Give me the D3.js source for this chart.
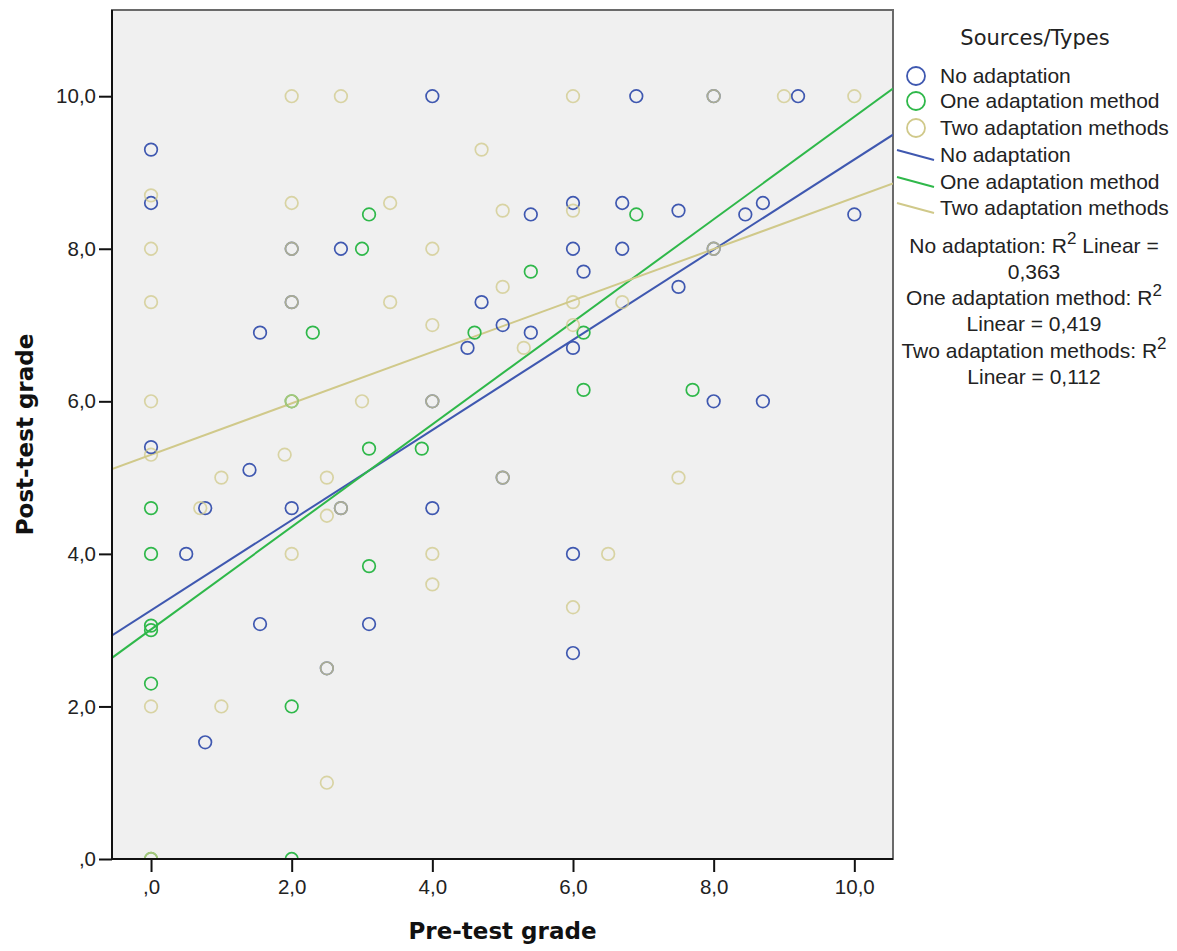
<!DOCTYPE html>
<html>
<head>
<meta charset="utf-8">
<script src="https://cdn.jsdelivr.net/npm/d3@7"></script>
<style>
  body { margin: 0; background: #fff; }
  svg text { font-family: "Liberation Sans", Arial, sans-serif; fill: #222; }
</style>
</head>
<body>
<div id="chart"></div>
<script>
// series names and colours
var groups = ["No adaptation", "One adaptation method", "Two adaptation methods"];
var groupColors = ["#3f58b0", "#2fb84a", "#d0c98a"];

// pre-test / post-test points, one array per group
var noAdaptation = [
  [4,10],[6.9,10],[8,10],[9.2,10],
  [0,9.3],[0,8.6],[2,8],[2.7,8],[2,7.3],[4.7,7.3],[1.55,6.9],[4.5,6.7],[5,7],
  [5.4,8.45],[6,8.6],[6.7,8.6],[7.5,8.5],[8.45,8.45],[8.7,8.6],[10,8.45],
  [6,8],[6.7,8],[8,8],[6.15,7.7],[7.5,7.5],[5.4,6.9],[6,6.7],
  [4,6],[0,5.4],[1.4,5.1],[5,5],[0.77,4.6],[2,4.6],[2.7,4.6],[4,4.6],
  [0.5,4],[1.55,3.08],[3.1,3.08],[2.5,2.5],[0.77,1.53],
  [8,6],[8.7,6],[6,4],[6,2.7]
];
var oneMethod = [
  [3.1,8.45],[3,8],[2.3,6.9],[4.6,6.9],[6.9,8.45],[5.4,7.7],[6.15,6.9],
  [2,6],[3.1,5.38],[3.85,5.38],[0,4.6],[0,4],[3.1,3.84],[0,3.06],[0,3],
  [0,2.3],[2,2],[2,0],[6.15,6.15],[7.7,6.15],[0,0]
];
var twoMethods = [
  [2,10],[2.7,10],[6,10],[8,10],[9,10],[10,10],
  [4.7,9.3],[0,8.7],[2,8.6],[3.4,8.6],[5,8.5],[6,8.5],
  [0,8],[2,8],[4,8],[0,7.3],[2,7.3],[3.4,7.3],[5,7.5],[6,7.3],[6.7,7.3],[4,7],[6,7],
  [5.3,6.7],[0,6],[2,6],[3,6],[4,6],[0,5.3],[1,5],[1.9,5.3],[2.5,5],[5,5],[7.5,5],
  [0.7,4.6],[2.7,4.6],[2.5,4.5],[2,4],[4,4],[4,3.6],[6.5,4],[6,3.3],
  [2.5,2.5],[0,2],[1,2],[2.5,1],[0,0],[8,8]
];

// linear fits: [intercept, slope]
var fitNo = [3.26, 0.591];
var fitOne = [3.01, 0.672];
var fitTwo = [5.30, 0.337];
var r2Labels = ["0,363", "0,419", "0,112"];

var tickValues = [0, 2, 4, 6, 8, 10];

///////////
var W = 1177, H = 951;
var pl = 112, pr = 893, pt = 10, pb = 859;

var svg = d3.select("#chart").append("svg")
  .attr("width", W).attr("height", H);

var x = d3.scaleLinear().domain([-0.555, 10.55]).range([pl, pr]);
var y = d3.scaleLinear().domain([0, 11.13]).range([pb, pt]);

var fmt = function(d) {
  return d === 0 ? ",0" : d3.format(".1f")(d).replace(".", ",");
};

/////////// PLOT AREA
svg.append("rect")
  .attr("x", pl).attr("y", pt)
  .attr("width", pr - pl).attr("height", pb - pt)
  .attr("fill", "#f0f0f0")
  .attr("stroke", "#6a6a6a").attr("stroke-width", 2);

svg.append("clipPath").attr("id", "clip")
  .append("rect")
  .attr("x", pl).attr("y", pt)
  .attr("width", pr - pl).attr("height", pb - pt);

var plot = svg.append("g").attr("clip-path", "url(#clip)");

/////////// FIT LINES
var fits = [fitNo, fitOne, fitTwo];
var xd = x.domain();
plot.selectAll("line.fit")
  .data(fits)
  .enter().append("line")
    .attr("class", "fit")
    .attr("x1", x(xd[0]))
    .attr("x2", x(xd[1]))
    .attr("y1", function(d) { return y(d[0] + d[1] * xd[0]); })
    .attr("y2", function(d) { return y(d[0] + d[1] * xd[1]); })
    .attr("stroke", function(d, i) { return groupColors[i]; })
    .attr("stroke-width", 2);

/////////// POINTS
var series = [noAdaptation, oneMethod, twoMethods];
var markOpacity = [1, 1, 0.75];
series.forEach(function(pts, i) {
  plot.selectAll("circle.s" + i)
    .data(pts)
    .enter().append("circle")
      .attr("class", "s" + i)
      .attr("cx", function(d) { return x(d[0]); })
      .attr("cy", function(d) { return y(d[1]); })
      .attr("r", 6.3)
      .attr("fill", "none")
      .attr("stroke", groupColors[i])
      .attr("stroke-opacity", markOpacity[i])
      .attr("stroke-width", 1.7);
});

/////////// AXES
var xAxis = svg.append("g")
  .attr("transform", "translate(0," + pb + ")")
  .call(d3.axisBottom(x).tickValues(tickValues).tickSize(13).tickPadding(7).tickFormat(fmt));
var yAxis = svg.append("g")
  .attr("transform", "translate(" + pl + ",0)")
  .call(d3.axisLeft(y).tickValues(tickValues).tickSize(13).tickPadding(3).tickFormat(fmt));
[xAxis, yAxis].forEach(function(a) {
  a.select(".domain").remove();
  a.selectAll(".tick line").attr("stroke", "#111").attr("stroke-width", 2);
  a.selectAll(".tick text")
    .attr("font-size", 20.5)
    .attr("font-family", "'Liberation Sans', Arial, sans-serif")
    .attr("fill", "#222");
});

svg.append("line")
  .attr("x1", pl).attr("x2", pl).attr("y1", pt).attr("y2", pb)
  .attr("stroke", "#111").attr("stroke-width", 2);
svg.append("line")
  .attr("x1", pl).attr("x2", pr).attr("y1", pb).attr("y2", pb)
  .attr("stroke", "#111").attr("stroke-width", 2);

/////////// AXIS TITLES
svg.append("text")
  .attr("x", (pl + pr) / 2).attr("y", 939)
  .attr("text-anchor", "middle")
  .style("font-family", "'DejaVu Sans', sans-serif")
  .style("font-weight", "bold")
  .style("font-size", "23px")
  .style("fill", "#111")
  .text("Pre-test grade");
svg.append("text")
  .attr("transform", "translate(33," + (pt + pb) / 2 + ") rotate(-90)")
  .attr("text-anchor", "middle")
  .style("font-family", "'DejaVu Sans', sans-serif")
  .style("font-weight", "bold")
  .style("font-size", "23px")
  .style("fill", "#111")
  .text("Post-test grade");

/////////// LEGEND
var lg = svg.append("g");
lg.append("text")
  .attr("x", 1035).attr("y", 45)
  .attr("text-anchor", "middle")
  .style("font-family", "'DejaVu Sans', sans-serif")
  .style("font-size", "21px")
  .text("Sources/Types");

var markRows = [76, 101, 128];
var lineRows = [155, 182, 208];
groups.forEach(function(g, i) {
  lg.append("circle")
    .attr("cx", 916).attr("cy", markRows[i]).attr("r", 9)
    .attr("fill", "none")
    .attr("stroke", groupColors[i]).attr("stroke-width", 1.8);
  lg.append("text")
    .attr("x", 940).attr("y", markRows[i] + 7)
    .style("font-size", "21px")
    .text(g);
  lg.append("line")
    .attr("x1", 897).attr("y1", lineRows[i] - 5)
    .attr("x2", 934).attr("y2", lineRows[i] + 5)
    .attr("stroke", groupColors[i]).attr("stroke-width", 2);
  lg.append("text")
    .attr("x", 940).attr("y", lineRows[i] + 7)
    .style("font-size", "21px")
    .text(g);
});

// R-squared notes
var r2Lines = [
  [groups[0] + ": R", "2", " Linear ="], ["" + r2Labels[0]],
  [groups[1] + ": R", "2", ""], ["Linear = " + r2Labels[1]],
  [groups[2] + ": R", "2", ""], ["Linear = " + r2Labels[2]]
];
var r2Base = [253, 279, 305, 331, 358, 384];
r2Lines.forEach(function(parts, i) {
  var t = lg.append("text")
    .attr("x", 1034).attr("y", r2Base[i])
    .attr("text-anchor", "middle")
    .style("font-size", "21px");
  t.append("tspan").text(parts[0]);
  if (parts.length > 1) {
    t.append("tspan").attr("dy", -9).style("font-size", "17px").text(parts[1]);
    if (parts[2]) t.append("tspan").attr("dy", 9).text(parts[2]);
  }
});
</script>
</body>
</html>
